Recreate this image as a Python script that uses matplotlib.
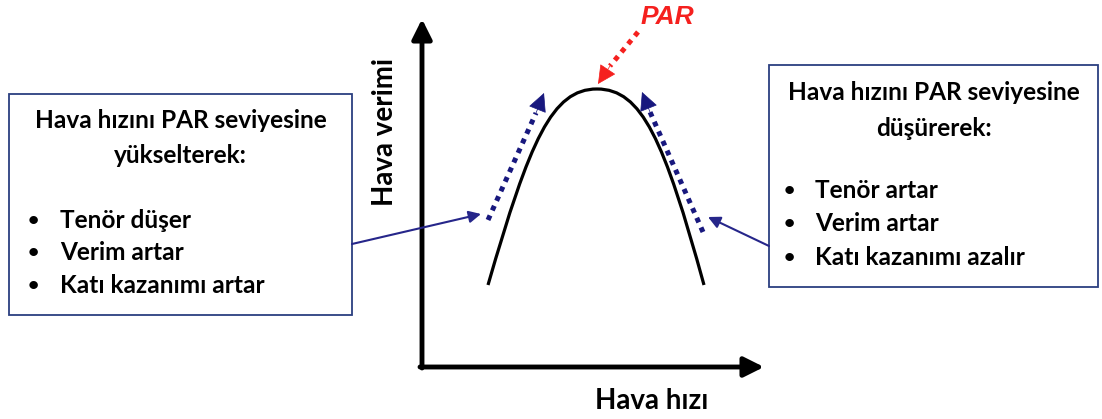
import numpy as np
import matplotlib.pyplot as plt
from matplotlib.path import Path
from matplotlib.patches import PathPatch, Rectangle

plt.rcParams['font.family'] = ['Lato', 'DejaVu Sans']

# metinler
x_label = 'Hava hızı'
y_label = 'Hava verimi'
par_label = 'PAR'
left_title = ['Hava hızını PAR seviyesine', 'yükselterek:']
left_items = ['Tenör düşer', 'Verim artar', 'Katı kazanımı artar']
right_title = ['Hava hızını PAR seviyesine', 'düşürerek:']
right_items = ['Tenör artar', 'Verim artar', 'Katı kazanımı azalır']

# egri noktalari (piksel): sol uc, tepe (PAR), sag uc
curve_left = (488, 285)
curve_peak = (597, 89)
curve_right = (704, 285)

navy = '#18187e'
line_navy = '#26268a'
box_navy = '#2b3f80'
red = '#f5201e'

fig = plt.figure(figsize=(11.02, 4.19), dpi=100)
ax = fig.add_axes([0, 0, 1, 1])
ax.set_xlim(0, 1102)
ax.set_ylim(419, 0)
ax.axis('off')

# eksenler
axis_arrow = dict(arrowstyle='-|>', color='black', lw=3.5, mutation_scale=30, shrinkA=0, shrinkB=0)
ax.annotate('', xy=(422, 19), xytext=(422, 368), arrowprops=axis_arrow)
ax.annotate('', xy=(764, 367), xytext=(420, 367), arrowprops=axis_arrow)
ax.text(652, 401, x_label, fontsize=20, fontweight='bold', ha='center', va='center')
ax.text(385, 132, y_label, fontsize=20, fontweight='bold', ha='center', va='center', rotation=90)

# verim egrisi
verts = [curve_left, (530, 140), (552, curve_peak[1]), curve_peak,
         (642, curve_peak[1]), (664, 140), curve_right]
codes = [Path.MOVETO] + [Path.CURVE4] * 6
ax.add_patch(PathPatch(Path(verts, codes), fc='none', ec='black', lw=2.3, capstyle='butt'))


def dotted_arrow(start, base, tip, color):
    ax.plot([start[0], base[0]], [start[1], base[1]], color=color, lw=3.6,
            linestyle=(0, (1, 1.1)), dash_capstyle='butt')
    ax.annotate('', xy=tip, xytext=base,
                arrowprops=dict(arrowstyle='-|>', color=color, lw=0.5, mutation_scale=30,
                                shrinkA=0, shrinkB=0))


dotted_arrow((488, 220), (536, 113), (544, 93), navy)
dotted_arrow((703, 232), (650, 112), (642, 92), navy)
dotted_arrow((638, 32), (610, 66), (598, 84), red)
ax.text(667, 17, par_label, color=red, fontsize=19, fontweight='bold', fontstyle='italic',
        family=['Liberation Sans'], ha='center', va='center')

# baglanti oklari
link = dict(arrowstyle='-|>', color=line_navy, lw=1.5, mutation_scale=18, shrinkA=0, shrinkB=0)
ax.annotate('', xy=(481, 214), xytext=(352, 244), arrowprops=link)
ax.annotate('', xy=(708, 217), xytext=(769, 246), arrowprops=link)


def text_box(x0, y0, x1, y1, title, items, title_y, item_y, bullet_x, text_x):
    ax.add_patch(Rectangle((x0, y0), x1 - x0, y1 - y0, fc='white', ec=box_navy, lw=1.3))
    cx = (x0 + x1) / 2
    for line, y in zip(title, title_y):
        ax.text(cx, y, line, fontsize=17.6, fontweight='bold', ha='center', va='center')
    for item, y in zip(items, item_y):
        ax.text(bullet_x, y, '•', fontsize=14, fontweight='bold', ha='center', va='center')
        ax.text(text_x, y, item, fontsize=17.6, fontweight='bold', ha='left', va='center')


text_box(9, 94, 352, 315, left_title, left_items, [120, 155], [220, 252, 285], 33, 60)
text_box(769, 65, 1098, 287, right_title, right_items, [92, 128], [190, 223, 257], 789, 815)

fig.savefig('out.png', dpi=100)
